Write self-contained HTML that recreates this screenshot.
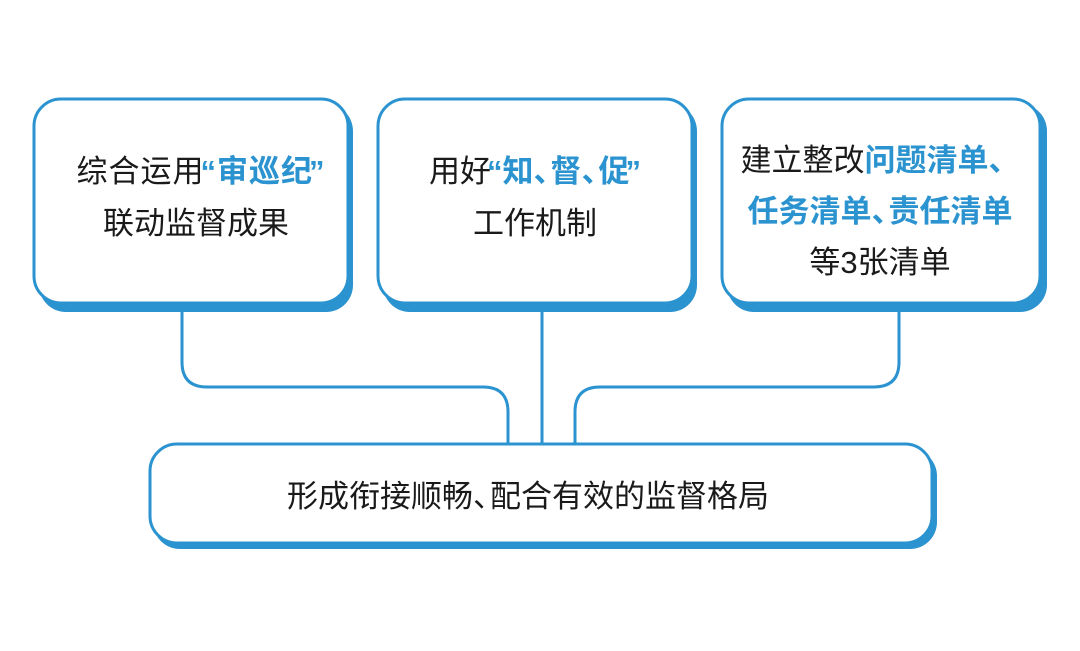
<!DOCTYPE html>
<html><head><meta charset="utf-8"><style>
html,body{margin:0;padding:0;background:#fff;width:1080px;height:651px;overflow:hidden}
svg text{font-family:"Liberation Sans","Noto Sans CJK SC",sans-serif;font-size:31px;fill:#1a1a1a;text-anchor:middle}
.b{fill:#2b93cf;font-weight:bold}
</style></head><body>
<svg width="1080" height="651" viewBox="0 0 1080 651" xmlns="http://www.w3.org/2000/svg">
<g fill="none" stroke="#2b93cf" stroke-width="3">
<path d="M182 305 V362 Q182 387 207 387 H483 Q508 387 508 412 V446"/>
<path d="M542 305 V446"/>
<path d="M899 305 V362 Q899 387 874 387 H600 Q575 387 575 412 V446"/>
</g>
<g fill="#2b93cf">
<rect x="39" y="104" width="314" height="208" rx="27"/>
<rect x="383" y="104" width="314" height="208" rx="27"/>
<rect x="727" y="104" width="320" height="208" rx="27"/>
<rect x="153" y="449" width="784" height="100" rx="27"/>
</g>
<g fill="#fff" stroke="#2b93cf" stroke-width="3">
<rect x="34" y="99" width="314" height="204" rx="27"/>
<rect x="378" y="99" width="314" height="204" rx="27"/>
<rect x="722" y="99" width="318" height="204" rx="27"/>
<rect x="150" y="444" width="782" height="99" rx="27"/>
</g>
<text x="201" y="182" letter-spacing="1">综合运用<tspan class="b" dx="-4">“审巡纪</tspan><tspan class="b" dx="-4">”</tspan></text>
<text x="196" y="234">联动监督成果</text>
<text x="535" y="182">用好<tspan class="b" dx="-4">“知、</tspan><tspan class="b" dx="-14">督、</tspan><tspan class="b" dx="-14">促</tspan><tspan class="b" dx="-4">”</tspan></text>
<text x="535" y="234">工作机制</text>
<text x="880" y="171">建立整改<tspan class="b">问题清单、</tspan></text>
<text x="880" y="222" class="b">任务清单、<tspan dx="-14">责任清单</tspan></text>
<text x="880" y="273">等3张清单</text>
<text x="528" y="507">形成衔接顺畅、<tspan dx="-14">配合有效的监督格局</tspan></text>
</svg>
</body></html>
